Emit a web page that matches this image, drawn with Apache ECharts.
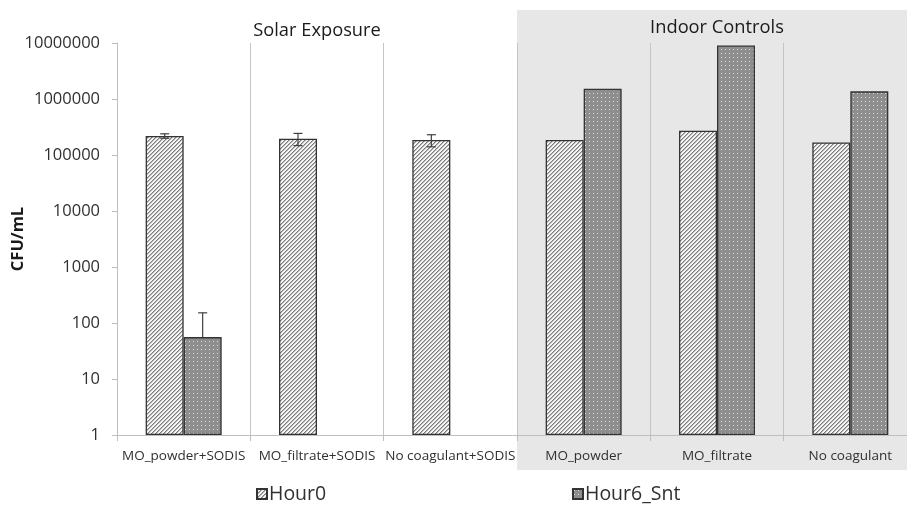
<!DOCTYPE html>
<html>
<head>
<meta charset="utf-8">
<script src="https://cdn.jsdelivr.net/npm/echarts@6/dist/echarts.min.js"></script>
<style>
  html, body { margin: 0; padding: 0; background: #ffffff; }
  #chart { width: 907px; height: 507px; }
</style>
</head>
<body>
<div id="chart"></div>
<script>
// Treatments along the x axis
const categories = ['MO_powder+SODIS', 'MO_filtrate+SODIS', 'No coagulant+SODIS', 'MO_powder', 'MO_filtrate', 'No coagulant'];
// CFU/mL at hour 0 and after 6 h (supernatant); null = nothing measured
const hour0 = [219000, 195000, 185000, 185000, 272000, 168000];
const hour0Err = [20000, 48000, 45000, null, null, null];
const hour6 = [56, null, null, 1530000, 9000000, 1370000];
const hour6Err = [96, null, null, null, null, null];
const seriesNames = ['Hour0', 'Hour6_Snt'];
// Condition groups: title and first/last category index
const groupTitles = ['Solar Exposure', 'Indoor Controls'];
const groupFirst = [0, 3];
const groupLast = [2, 5];

const FONT = '"Open Sans", "Noto Sans", sans-serif';

// Hatched fill: "/" diagonal stripes
function stripeTile() {
  const c = document.createElement('canvas');
  c.width = 4; c.height = 4;
  const g = c.getContext('2d');
  for (let x = 0; x < 4; x++) {
    for (let y = 0; y < 4; y++) {
      const k = (x + y) % 4;
      g.fillStyle = k === 0 ? '#7c7c7c' : (k === 1 ? '#b8b8b8' : '#f6f6f6');
      g.fillRect(x, y, 1, 1);
    }
  }
  return c;
}
// Dotted fill: light dots on mid grey
function dotTile() {
  const c = document.createElement('canvas');
  c.width = 4; c.height = 4;
  const g = c.getContext('2d');
  g.fillStyle = '#8e8e8e';
  g.fillRect(0, 0, 4, 4);
  g.fillStyle = '#dcdcdc';
  g.fillRect(1, 1, 1, 1);
  return c;
}

const fillHour0 = { image: stripeTile(), repeat: 'repeat' };
const fillHour6 = { image: dotTile(), repeat: 'repeat' };

const BAR_FRAC = 0.285;

function errorSeries(name, values, errs, side) {
  const data = [];
  values.forEach((v, i) => {
    if (v != null && errs[i] != null) data.push([i, v, errs[i]]);
  });
  return {
    type: 'custom',
    name: name,
    z: 6,
    silent: true,
    encode: { x: 0, y: 1 },
    data: data,
    renderItem(params, api) {
      const i = api.value(0), v = api.value(1), e = api.value(2);
      const band = api.coord([1, v])[0] - api.coord([0, v])[0];
      const cx = api.coord([i, v])[0] + side * band * BAR_FRAC / 2;
      const yHi = api.coord([i, v + e])[1];
      const yLo = v - e > 0 ? api.coord([i, v - e])[1] : api.coord([i, v])[1];
      const cap = 4.5;
      const style = { stroke: '#404040', lineWidth: 1.2 };
      const kids = [
        { type: 'line', shape: { x1: cx, y1: yHi, x2: cx, y2: yLo }, style },
        { type: 'line', shape: { x1: cx - cap, y1: yHi, x2: cx + cap, y2: yHi }, style }
      ];
      if (v - e > 0) {
        kids.push({ type: 'line', shape: { x1: cx - cap, y1: yLo, x2: cx + cap, y2: yLo }, style });
      }
      return { type: 'group', children: kids };
    }
  };
}

const chart = echarts.init(document.getElementById('chart'), null, { renderer: 'canvas' });

const legendBase = {
  orient: 'horizontal',
  top: 484,
  padding: 0,
  itemWidth: 10,
  itemHeight: 10,
  itemGap: 10,
  icon: 'rect',
  textStyle: { fontFamily: FONT, fontSize: 19.5, color: '#303030', padding: [0, 0, 0, -3] }
};

chart.setOption({
  animation: false,
  backgroundColor: '#ffffff',
  grid: {
    left: 117, top: 43, width: 800, height: 392,
    containLabel: false, outerBoundsMode: 'none'
  },
  legend: [
    Object.assign({}, legendBase, { left: 256, data: [seriesNames[0]] }),
    Object.assign({}, legendBase, { left: 572, data: [seriesNames[1]] })
  ],
  xAxis: {
    type: 'category',
    data: categories,
    boundaryGap: true,
    axisLine: { show: true, lineStyle: { color: '#bfbfbf', width: 1 } },
    axisTick: { show: true, length: 6, lineStyle: { color: '#bfbfbf' } },
    splitLine: { show: true, lineStyle: { color: '#c4c4c4', width: 1 } },
    axisLabel: { interval: 0, margin: 14, fontFamily: FONT, fontSize: 13.5, color: '#303030' }
  },
  yAxis: {
    type: 'log',
    logBase: 10,
    min: 1,
    max: 10000000,
    name: 'CFU/mL',
    nameLocation: 'middle',
    nameRotate: 90,
    nameGap: 90,
    nameMoveOverlap: false,
    nameTextStyle: { fontFamily: FONT, fontSize: 16.5, fontWeight: 'bold', color: '#1a1a1a' },
    axisLine: { show: true, lineStyle: { color: '#bfbfbf', width: 1 } },
    axisTick: { show: true, length: 5, lineStyle: { color: '#bfbfbf' } },
    splitLine: { show: false },
    axisLabel: {
      margin: 17,
      fontFamily: FONT,
      fontSize: 16.5,
      color: '#303030',
      formatter: v => String(Math.round(v))
    }
  },
  series: [
    {
      type: 'bar',
      name: seriesNames[0],
      data: hour0,
      barWidth: (BAR_FRAC * 100) + '%',
      barGap: '0%',
      z: 3,
      itemStyle: { color: fillHour0, borderColor: '#333333', borderWidth: 1.3 }
    },
    {
      type: 'bar',
      name: seriesNames[1],
      data: hour6,
      barWidth: (BAR_FRAC * 100) + '%',
      barGap: '0%',
      z: 3,
      itemStyle: { color: fillHour6, borderColor: '#333333', borderWidth: 1.3 }
    },
    errorSeries('Hour0 error', hour0, hour0Err, -1),
    errorSeries('Hour6_Snt error', hour6, hour6Err, 1)
  ]
});

// Group shading and group titles, positioned from the category scale
const px = i => chart.convertToPixel({ xAxisIndex: 0 }, i);
const band = px(1) - px(0);
const graphics = [];
const shadeLeft = px(groupFirst[1]) - band / 2;
graphics.push({
  type: 'rect',
  z: -10,
  silent: true,
  shape: { x: shadeLeft, y: 10, width: 907 - shadeLeft + 2, height: 460 },
  style: { fill: '#e7e7e7' }
});
const titleY = [31, 28];
groupTitles.forEach((t, g) => {
  const mid = (groupFirst[g] + groupLast[g]) / 2;
  graphics.push({
    type: 'text',
    z: 10,
    silent: true,
    x: px(mid),
    y: titleY[g],
    style: {
      text: t,
      fontFamily: FONT,
      fontSize: 18.3,
      fill: '#1a1a1a',
      align: 'center',
      verticalAlign: 'middle'
    }
  });
});
chart.setOption({ graphic: graphics });
</script>
</body>
</html>
